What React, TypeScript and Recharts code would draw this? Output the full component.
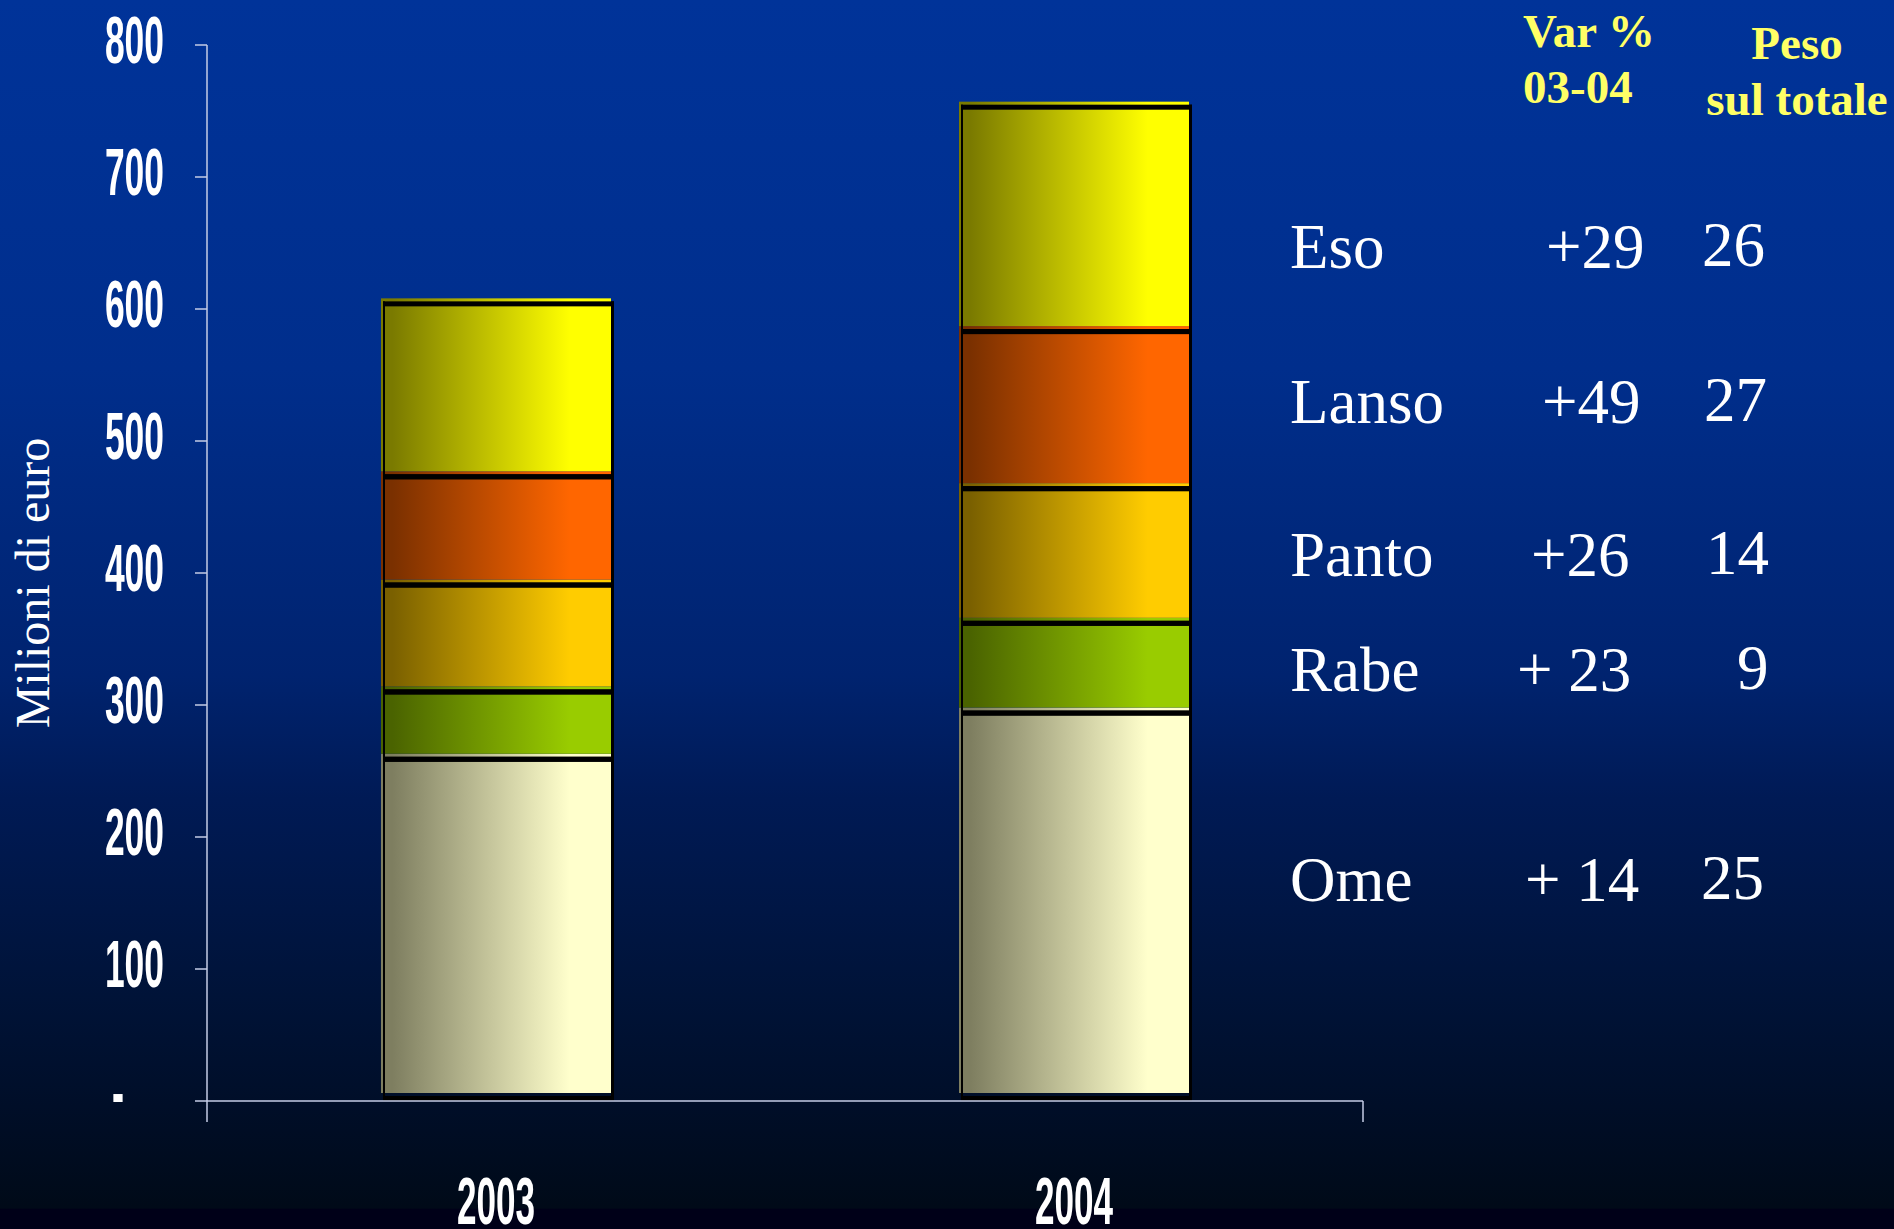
import React from "react"
import { BarChart, Bar, XAxis, YAxis } from "recharts"

// values (milioni di euro)
const years = ["2003", "2004"]
const ome = [257, 292]
const rabe = [51, 68]
const panto = [81, 102]
const lanso = [82, 119]
const eso = [131, 170]
const yTicks = [0, 100, 200, 300, 400, 500, 600, 700, 800]

// side table
const products = ["Eso", "Lanso", "Panto", "Rabe", "Ome"]
const varPct = ["+29", "+49", "+26", "+ 23", "+ 14"]
const peso = ["26", "27", "14", "9", "25"]

const data = years.map((year, i) => ({
	year,
	ome: ome[i],
	rabe: rabe[i],
	panto: panto[i],
	lanso: lanso[i],
	eso: eso[i],
}))

const series = [
	{ key: "ome", dark: "#7e7e60", light: "#ffffcc" },
	{ key: "rabe", dark: "#4a6300", light: "#99cc00" },
	{ key: "panto", dark: "#7a6000", light: "#ffcc00" },
	{ key: "lanso", dark: "#7a3000", light: "#ff6600" },
	{ key: "eso", dark: "#7a7a00", light: "#ffff00" },
]

// layout of the side table (baselines and x starts)
const rowBaselines = [268, 423, 576, 691, 901]
const labelX = 1290
const varX = [1546, 1542, 1531, 1517, 1525]
const pesoX = [1702, 1704, 1706, 1737, 1701]

const W = 1894
const H = 1229
const narrow = "'Liberation Sans Narrow', 'Liberation Sans', Arial, sans-serif"
const serif = "'Liberation Serif', 'Times New Roman', serif"
const axisColor = "#c4cce6"

function Segment(props: any) {
	const { x, y, width, height, gradId } = props
	if (!height || height <= 0) return null
	const fx = x
	const fy = y - 8
	return (
		<g>
			<rect x={fx} y={fy} width={width} height={height} fill={`url(#${gradId})`} />
			<rect x={fx + 2} y={fy + 3} width={width + 1} height={5} fill="#000" />
			<rect x={fx + 2} y={fy + height + 3} width={width + 1} height={5} fill="#000" />
			<rect x={fx + 2} y={fy + 3} width={2} height={height + 5} fill="#000" />
			<rect x={fx + width} y={fy + 3} width={3} height={height + 5} fill="#000" />
		</g>
	)
}

function YTick(props: any) {
	const { x, y, payload } = props
	const v = payload.value
	if (v === 0) {
		return (
			<text
				x={x - 40}
				y={y + 14}
				textAnchor="end"
				fill="#fff"
				fontFamily={narrow}
				fontWeight="bold"
				fontSize={67}
				textLength={12}
				lengthAdjust="spacingAndGlyphs"
			>
				-
			</text>
		)
	}
	const s = String(v)
	return (
		<text
			x={x}
			y={y + 18}
			textAnchor="end"
			fill="#fff"
			fontFamily={narrow}
			fontWeight="bold"
			fontSize={67}
			textLength={s.length * 19.7}
			lengthAdjust="spacingAndGlyphs"
		>
			{s}
		</text>
	)
}

function XTick(props: any) {
	const { x, y, payload } = props
	const s = String(payload.value)
	return (
		<text
			x={x}
			y={y + 122}
			textAnchor="middle"
			fill="#fff"
			fontFamily={narrow}
			fontWeight="bold"
			fontSize={67}
			textLength={s.length * 19.5}
			lengthAdjust="spacingAndGlyphs"
		>
			{s}
		</text>
	)
}

export default function App() {
	return (
		<div
			style={{
				position: "absolute",
				left: 0,
				top: 0,
				width: W,
				height: H,
				background:
					"linear-gradient(to bottom, #003399 0%, #002e8c 30%, #00236f 55%, #001a55 65%, #001338 81%, #000e28 90%, #000a18 98.3%, #000018 98.4%, #000018 100%)",
			}}
		>
			<BarChart
				width={W}
				height={H}
				data={data}
				margin={{ top: 45, right: 531, left: 0, bottom: 0 }}
				barSize={230}
			>
				<defs>
					{series.map((s) => (
						<linearGradient key={s.key} id={`g-${s.key}`} x1="0" y1="0" x2="1" y2="0">
							<stop offset="0.05" stopColor={s.dark} />
							<stop offset="0.82" stopColor={s.light} />
						</linearGradient>
					))}
				</defs>
				<XAxis
					xAxisId="b"
					dataKey="year"
					axisLine={false}
					tickLine={false}
					tickSize={0}
					tickMargin={0}
					height={127}
					tick={<XTick />}
					interval={0}
				/>
				<XAxis
					xAxisId="a"
					type="number"
					domain={[0, 2]}
					ticks={[0, 1, 2]}
					tickFormatter={() => ""}
					tickSize={21}
					height={1}
					axisLine={{ stroke: axisColor, strokeWidth: 1.5 }}
					tickLine={{ stroke: axisColor, strokeWidth: 1.5 }}
				/>
				<YAxis
					domain={[0, 800]}
					ticks={yTicks}
					width={207}
					tickSize={12}
					tickMargin={31}
					interval={0}
					axisLine={{ stroke: axisColor, strokeWidth: 1.5 }}
					tickLine={{ stroke: axisColor, strokeWidth: 1.5 }}
					tick={<YTick />}
				/>
				{series.map((s) => (
					<Bar
						key={s.key}
						dataKey={s.key}
						xAxisId="b"
						stackId="a"
						isAnimationActive={false}
						shape={(p: any) => <Segment {...p} gradId={`g-${s.key}`} />}
					/>
				))}
			</BarChart>

			<svg
				width={W}
				height={H}
				style={{ position: "absolute", left: 0, top: 0, pointerEvents: "none" }}
			>
				<text
					transform="translate(49,583) rotate(-90)"
					textAnchor="middle"
					fill="#fff"
					fontFamily={serif}
					fontSize={48}
				>
					Milioni di euro
				</text>

				<g fill="#ffff66" fontFamily={serif} fontWeight="bold" fontSize={47}>
					<text x={1523} y={47}>Var %</text>
					<text x={1523} y={103}>03-04</text>
					<text x={1797} y={59} textAnchor="middle">Peso</text>
					<text x={1797} y={115} textAnchor="middle">sul totale</text>
				</g>

				<g fill="#fff" fontFamily={serif} fontSize={63}>
					{products.map((p, i) => (
						<g key={p}>
							<text x={labelX} y={rowBaselines[i]}>{p}</text>
							<text x={varX[i]} y={rowBaselines[i]}>{varPct[i]}</text>
							<text x={pesoX[i]} y={rowBaselines[i] - 2}>{peso[i]}</text>
						</g>
					))}
				</g>
			</svg>
		</div>
	)
}
